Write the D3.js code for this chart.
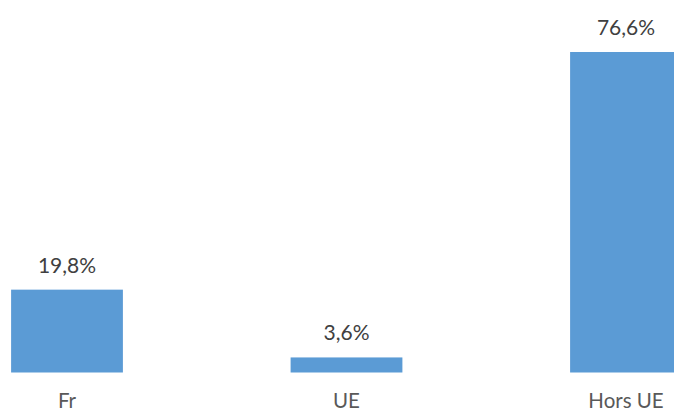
<!DOCTYPE html>
<html>
<head>
<meta charset="utf-8">
<script src="https://cdn.jsdelivr.net/npm/d3@7"></script>
<style>
  html, body { margin: 0; padding: 0; background: #ffffff; }
  svg { display: block; }
</style>
</head>
<body>
<svg id="chart" width="674" height="412"></svg>
<script>
// Share of total by origin
const categories = ["Fr", "UE", "Hors UE"];
const values = [19.8, 3.6, 76.6];
const valueLabels = ["19,8%", "3,6%", "76,6%"];

const svg = d3.select("#chart");
const baseline = 372.5;

// Band centres sit at ~67, ~346, ~626; the plot extends past the right edge
const x = d3.scaleBand()
  .domain(categories)
  .range([-72.75, 765.75])
  .paddingInner(0.6)
  .paddingOuter(0.3);

const y = d3.scaleLinear()
  .domain([0, 76.6])
  .range([baseline, 52]);

// re-centre so the first band centre lands at 67
const offset = 67 - (x(categories[0]) + x.bandwidth() / 2);

const g = svg.append("g").attr("transform", `translate(${offset},0)`);

g.selectAll("rect.bar")
  .data(values)
  .join("rect")
  .attr("class", "bar")
  .attr("x", (d, i) => x(categories[i]))
  .attr("width", x.bandwidth())
  .attr("y", d => y(d))
  .attr("height", d => baseline - y(d))
  .attr("fill", "#5B9BD5");

g.selectAll("text.value")
  .data(values)
  .join("text")
  .attr("class", "value")
  .attr("x", (d, i) => x(categories[i]) + x.bandwidth() / 2)
  .attr("y", d => y(d) - 17)
  .attr("text-anchor", "middle")
  .attr("font-family", "Lato, 'Open Sans', sans-serif")
  .attr("font-size", 21)
  .attr("fill", "#404040")
  .text((d, i) => valueLabels[i]);

const xAxis = d3.axisBottom(x).tickSize(0).tickPadding(0);
const axisG = g.append("g")
  .attr("transform", `translate(0,${baseline})`)
  .call(xAxis);
axisG.select(".domain").remove();
axisG.selectAll("text")
  .attr("dy", 0)
  .attr("y", 35)
  .attr("font-family", "Lato, 'Open Sans', sans-serif")
  .attr("font-size", 20.5)
  .attr("fill", "#595959");
</script>
</body>
</html>
